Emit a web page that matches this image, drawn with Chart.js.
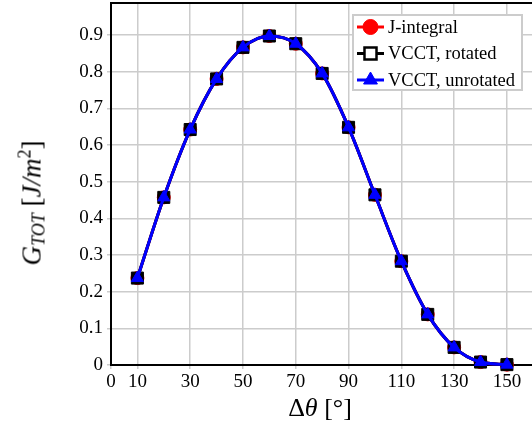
<!DOCTYPE html>
<html>
<head>
<meta charset="utf-8">
<script src="https://cdn.jsdelivr.net/npm/chart.js@4.4.0/dist/chart.umd.min.js"></script>
<style>
  body { margin: 0; background: #fff; }
  #wrap { position: relative; width: 532px; height: 432px; overflow: hidden; }
  .ttl { position: absolute; font-family: "Liberation Serif", serif; color: #000; white-space: nowrap; }
  #ytitle { left: 32px; top: 203px; font-size: 27px; transform: translate(-50%, -50%) rotate(-90deg); }
  #xtitle { left: 320px; top: 408px; font-size: 26px; transform: translate(-50%, -50%); }
  sub { font-size: 18px; vertical-align: -4px; }
  sup { font-size: 18px; vertical-align: 10px; }
</style>
</head>
<body>
<div id="wrap">
  <canvas id="chart"></canvas>
  <div class="ttl" id="ytitle"><i>G</i><sub><i>TOT</i></sub> [<i>J/m</i><sup>2</sup>]</div>
  <div class="ttl" id="xtitle">&Delta;<i>&theta;</i> [&deg;]</div>
</div>
<script>
// Data
const angles = [10, 20, 30, 40, 50, 60, 70, 80, 90, 100, 110, 120, 130, 140, 150];
const jIntegral = [0.237, 0.457, 0.642, 0.780, 0.866, 0.897, 0.876, 0.795, 0.648, 0.464, 0.283, 0.138, 0.048, 0.008, 0.001];
const vcctRotated = [0.237, 0.457, 0.642, 0.780, 0.866, 0.897, 0.876, 0.795, 0.648, 0.464, 0.283, 0.138, 0.048, 0.008, 0.001];
const vcctUnrotated = [0.237, 0.457, 0.642, 0.780, 0.866, 0.897, 0.876, 0.795, 0.648, 0.464, 0.283, 0.138, 0.048, 0.008, 0.001];
const xTickValues = [0, 10, 30, 50, 70, 90, 110, 130, 150];
const seriesNames = ['J-integral', 'VCCT, rotated', 'VCCT, unrotated'];

const font = { family: 'Liberation Serif', size: 19 };

function toPoints(vals) {
    return angles.map((a, i) => ({ x: a, y: vals[i] }));
}

// plotFill: what the marker looks like in the plot (squares read as solid black there)
const styles = [
    { pointStyle: 'circle', color: 'red', fill: 'red', plotFill: 'red', r: 6.5, bw: 1 },
    { pointStyle: 'rect', color: 'black', fill: 'white', plotFill: 'black', r: 8.5, bw: 1 },
    { pointStyle: 'triangle', color: 'blue', fill: 'blue', plotFill: 'blue', r: 7, bw: 1 }
];

const datasets = [jIntegral, vcctRotated, vcctUnrotated].map((vals, i) => ({
    label: seriesNames[i],
    data: toPoints(vals),
    borderColor: styles[i].color,
    backgroundColor: styles[i].plotFill,
    borderWidth: 3,
    pointStyle: styles[i].pointStyle,
    pointRadius: styles[i].r,
    pointBorderColor: styles[i].color,
    pointBackgroundColor: styles[i].plotFill,
    pointBorderWidth: styles[i].bw,
    cubicInterpolationMode: 'monotone',
    clip: false,
    order: 2 - i
}));

// legend with line + marker, and the top frame line
const extras = {
    id: 'extras',
    afterDraw(chart) {
        const ctx = chart.ctx;
        const area = chart.chartArea;
        ctx.save();
        ctx.strokeStyle = '#000';
        ctx.lineWidth = 2;
        ctx.beginPath();
        ctx.moveTo(area.left, area.top);
        ctx.lineTo(area.right, area.top);
        ctx.stroke();

        // legend box
        const bx = 353, by = 15, bw = 169, bh = 75;
        ctx.fillStyle = '#fff';
        ctx.fillRect(bx, by, bw, bh);
        ctx.strokeStyle = '#cccccc';
        ctx.lineWidth = 2;
        ctx.strokeRect(bx, by, bw, bh);

        ctx.font = '18.5px "Liberation Serif"';
        ctx.textBaseline = 'middle';
        seriesNames.forEach((name, i) => {
            const y = 27 + i * 26.5;
            const s = styles[i];
            ctx.strokeStyle = s.color;
            ctx.lineWidth = 3;
            ctx.beginPath();
            ctx.moveTo(357, y);
            ctx.lineTo(384, y);
            ctx.stroke();
            const bwLeg = i === 1 ? 2.5 : 1;
            const rLeg = i === 1 ? 8.5 : s.r + 1;
            ctx.fillStyle = s.fill;
            ctx.strokeStyle = s.color;
            ctx.lineWidth = bwLeg;
            Chart.helpers.drawPoint(ctx, { pointStyle: s.pointStyle, radius: rLeg, rotation: 0, borderWidth: bwLeg }, 370.5, y);
            ctx.fillStyle = '#000';
            ctx.fillText(name, 388, y + 1);
        });
        ctx.restore();
    }
};

new Chart(document.getElementById('chart'), {
    type: 'line',
    data: { datasets },
    options: {
        responsive: true,
        maintainAspectRatio: false,
        animation: false,
        layout: { autoPadding: false, padding: { top: 3, right: 0, left: 0, bottom: 0 } },
        plugins: {
            legend: { display: false },
            tooltip: { enabled: false }
        },
        scales: {
            x: {
                type: 'linear',
                min: 0,
                max: 159.5,
                afterBuildTicks: scale => {
                    scale.ticks = xTickValues.map(v => ({ value: v }));
                },
                afterFit: scale => {
                    scale.height = 67;
                    scale.paddingLeft = 0;
                    scale.paddingRight = 0;
                },
                ticks: { color: '#000', font, padding: 2, maxRotation: 0, autoSkip: false },
                grid: { color: '#cccccc', lineWidth: 1.5, tickLength: 4 },
                border: { color: '#000', width: 2 }
            },
            y: {
                min: 0,
                max: 0.987,
                afterFit: scale => {
                    scale.width = 111;
                    scale.paddingTop = 0;
                    scale.paddingBottom = 0;
                },
                ticks: { stepSize: 0.1, includeBounds: false, color: '#000', font, padding: 4 },
                grid: { color: '#cccccc', lineWidth: 1.5, tickLength: 4 },
                border: { color: '#000', width: 2 }
            }
        }
    },
    plugins: [extras]
});
</script>
</body>
</html>
